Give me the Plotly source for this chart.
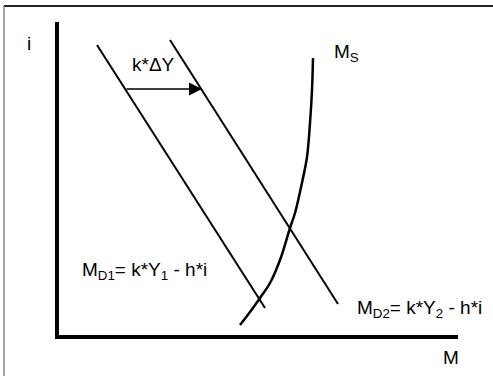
import plotly.graph_objects as go

# chart units: M measured right from the origin, i measured up from it
md1_m = [40, 208]
md1_i = [292, 29]
md2_m = [113, 281]
md2_i = [297, 33]

ms_m = [256, 255, 253, 250, 244.5, 238, 233, 223, 213, 203, 193, 183]
ms_i = [279, 247, 214, 180, 152, 124, 109, 77, 54, 39, 25, 12]

shift_from = [68, 248]
shift_to = [145, 248]

m_range = [2, 401]
i_range = [2, 315]

FONT = "Liberation Sans, Arial, sans-serif"
W, H = 493, 376
L, R, T, B = 59, 35, 22, 41

fig = go.Figure()

line_style = dict(color="black", width=2)
fig.add_trace(go.Scatter(x=md1_m, y=md1_i, mode="lines", line=line_style, hoverinfo="skip"))
fig.add_trace(go.Scatter(x=md2_m, y=md2_i, mode="lines", line=line_style, hoverinfo="skip"))
fig.add_trace(go.Scatter(x=ms_m, y=ms_i, mode="lines",
                         line=dict(color="black", width=2.5, shape="spline"), hoverinfo="skip"))

# shift arrow
fig.add_annotation(x=shift_to[0], y=shift_to[1], ax=shift_from[0], ay=shift_from[1],
                   xref="x", yref="y", axref="x", ayref="y", text="",
                   showarrow=True, arrowhead=2, arrowsize=2, arrowwidth=1.3,
                   arrowcolor="black", standoff=0)

# page pixel -> paper fraction, for things outside the axes
px = lambda v: (v - L) / (W - L - R)
py = lambda v: (H - B - v) / (H - T - B)

def label(x, y, txt, xanchor="center", ref="data", size=19):
    xref, yref = ("x", "y") if ref == "data" else ("paper", "paper")
    fig.add_annotation(x=x, y=y, xref=xref, yref=yref, text=txt, showarrow=False,
                       xanchor=xanchor, yanchor="middle",
                       font=dict(family=FONT, size=size, color="black"))

label(px(29), py(43), "i", ref="paper")
label(px(451), py(357), "M", ref="paper")
label(96, 273, "k*ΔY")
label(275, 284, "M<sub>S</sub>", xanchor="left")
label(23, 66, "M<sub>D1</sub>= k*Y<sub>1</sub> - h*i", xanchor="left")
label(298, 28, "M<sub>D2</sub>= k*Y<sub>2</sub> - h*i", xanchor="left")

# outer frame (only the top and left edges are inside the picture)
fig.add_shape(type="line", xref="paper", yref="paper",
              x0=px(4), x1=px(500), y0=py(6), y1=py(6),
              line=dict(color="#222", width=2))
fig.add_shape(type="line", xref="paper", yref="paper",
              x0=px(4), x1=px(4), y0=py(6), y1=py(400),
              line=dict(color="#888", width=1.5))

axis_style = dict(showline=True, linecolor="black", linewidth=3.5, showgrid=False,
                  zeroline=False, showticklabels=False, ticks="")
fig.update_xaxes(range=m_range, **axis_style)
fig.update_yaxes(range=i_range, **axis_style)

fig.update_layout(width=W, height=H, margin=dict(l=L, r=R, t=T, b=B),
                  paper_bgcolor="white", plot_bgcolor="white", showlegend=False)

# the page body has a default margin; drop it so the figure sits at the window corner
fig.write_html("out.html", config={"displayModeBar": False},
               post_script="document.body.style.margin='0';")
